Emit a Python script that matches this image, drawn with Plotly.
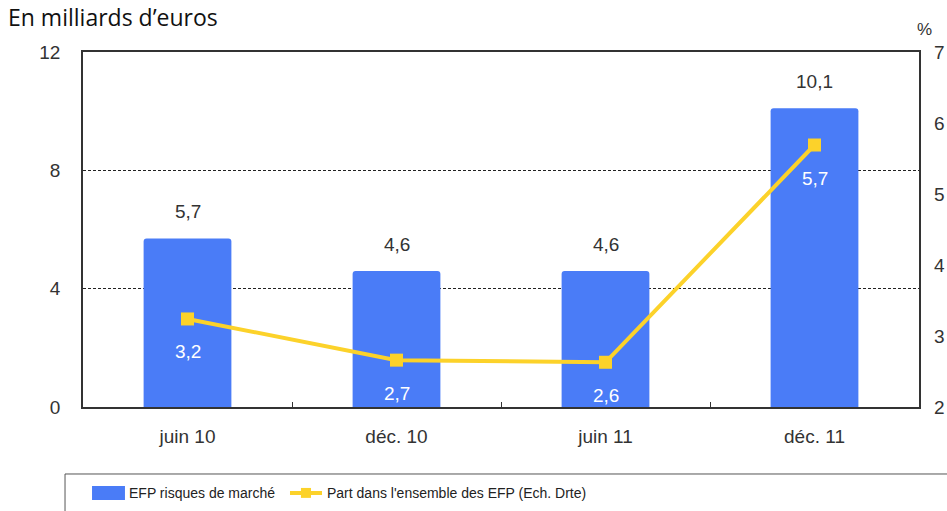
import plotly.graph_objects as go

categories = ["juin 10", "déc. 10", "juin 11", "déc. 11"]
efp_marche = [5.7, 4.6, 4.6, 10.1]          # milliards d'euros (axe gauche)
part_efp = [3.24, 2.66, 2.63, 5.69]          # % (axe droit)
bar_labels = ["5,7", "4,6", "4,6", "10,1"]
line_labels = ["3,2", "2,7", "2,6", "5,7"]
left_ticks = [0, 4, 8, 12]
right_ticks = [2, 3, 4, 5, 6, 7]

BLUE = "#4a7cf7"
YELLOW = "#fcd22a"
FONT = "Liberation Sans, Arial, sans-serif"

fig = go.Figure()
fig.add_trace(go.Bar(x=categories, y=efp_marche, width=0.42,
                     marker=dict(color=BLUE, line=dict(width=0), cornerradius=3),
                     name="EFP risques de marché", showlegend=False, yaxis="y"))
fig.add_trace(go.Scatter(x=categories, y=part_efp, mode="lines+markers",
                         line=dict(color=YELLOW, width=4),
                         marker=dict(symbol="square", size=13, color=YELLOW),
                         name="Part dans l'ensemble des EFP (Ech. Drte)",
                         showlegend=False, yaxis="y2"))

ann = []
for c, v, t in zip(categories, efp_marche, bar_labels):
    ann.append(dict(x=c, y=v, xref="x", yref="y", text=t, showarrow=False,
                    yanchor="bottom", yshift=14, font=dict(family=FONT, size=19, color="#333")))
for c, v, t in zip(categories, part_efp, line_labels):
    ann.append(dict(x=c, y=v, xref="x", yref="y2", text=t, showarrow=False,
                    yanchor="middle", yshift=-33, font=dict(family=FONT, size=19, color="white")))
ann.append(dict(x=1.007, y=1.062, xref="paper", yref="paper", text="%", showarrow=False,
                xanchor="center", yanchor="middle", font=dict(family=FONT, size=17, color="#333")))
# custom legend texts
ann.append(dict(x=0.0525, y=-0.2423, xref="paper", yref="paper", text="EFP risques de marché",
                showarrow=False, xanchor="left", yanchor="middle",
                font=dict(family=FONT, size=14, color="#222")))
ann.append(dict(x=0.2895, y=-0.2423, xref="paper", yref="paper",
                text="Part dans l'ensemble des EFP (Ech. Drte)",
                showarrow=False, xanchor="left", yanchor="middle",
                font=dict(family=FONT, size=14, color="#222")))

shapes = [
    dict(type="rect", xref="paper", yref="paper", x0=-0.0215, x1=1.1, y0=-0.36, y1=-0.1887,
         line=dict(color="#555", width=1), fillcolor="rgba(0,0,0,0)", layer="above"),
    dict(type="rect", xref="paper", yref="paper", x0=0.0108, x1=0.0502, y0=-0.262, y1=-0.2225,
         line=dict(width=0), fillcolor=BLUE, layer="above"),
    dict(type="line", xref="paper", yref="paper", x0=0.2476, x1=0.2859, y0=-0.2423, y1=-0.2423,
         line=dict(color=YELLOW, width=4), layer="above"),
    dict(type="rect", xref="paper", yref="paper", x0=0.2607, x1=0.2727, y0=-0.256, y1=-0.228,
         line=dict(width=0), fillcolor=YELLOW, layer="above"),
]

fig.update_layout(
    width=947, height=511,
    margin=dict(l=83, r=28, t=52, b=104, autoexpand=False),
    paper_bgcolor="white", plot_bgcolor="white",
    title=dict(text="En milliards d’euros", x=8/947, xref="container", xanchor="left",
               y=1 - 18/511, yref="container", yanchor="middle", pad=dict(t=0, l=0),
               font=dict(family="Open Sans, sans-serif", size=23, color="#111", weight=500)),
    xaxis=dict(showline=True, linecolor="#333", linewidth=1.5, mirror=True,
               ticks="inside", ticklen=5, tickcolor="#333", tickson="boundaries",
               ticklabelstandoff=11, showgrid=False, automargin=False,
               tickfont=dict(family=FONT, size=19, color="#333")),
    yaxis=dict(range=[0, 12], tickvals=left_ticks, showline=True, linecolor="#333",
               linewidth=1.5, mirror=True, showgrid=True, gridcolor="#222", gridwidth=1,
               griddash="3px,2px", zeroline=False, ticks="", ticklabelstandoff=17,
               automargin=False, tickfont=dict(family=FONT, size=19, color="#333")),
    yaxis2=dict(range=[2, 7], tickvals=right_ticks, overlaying="y", side="right",
                showgrid=False, zeroline=False, showline=False, ticks="",
                ticklabelstandoff=14, automargin=False,
                tickfont=dict(family=FONT, size=19, color="#333")),
    annotations=ann, shapes=shapes,
)

# remove the browser's default 8px body margin so the figure sits at the window's top-left
fig.write_html("out.html", config={"displayModeBar": False},
               post_script="document.body.style.margin='0';")
